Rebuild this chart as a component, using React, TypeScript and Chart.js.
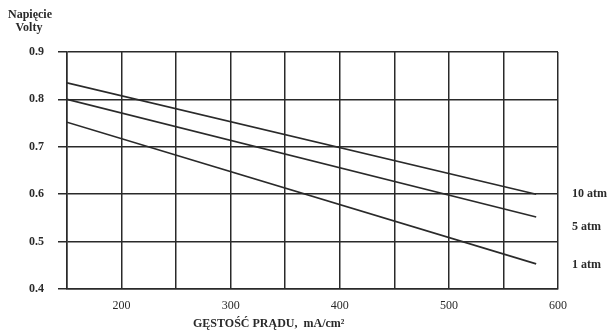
import React, { useEffect, useRef } from "react";
import { Chart, registerables } from "chart.js";

Chart.register(...registerables);

const densities = [150, 580];
const series10atm = [0.835, 0.6];
const series5atm = [0.8, 0.552];
const series1atm = [0.752, 0.453];
const seriesNames = ["10 atm", "5 atm", "1 atm"];
const labelValues = [0.6, 0.531, 0.45];
const xTitle = "GĘSTOŚĆ PRĄDU,  mA/cm²";
const yTitle = ["Napięcie", "Volty"];

const INK = "#2a2a2a";
const FONT = "'Liberation Serif', 'DejaVu Serif', serif";

export default function App() {
  const ref = useRef<HTMLCanvasElement | null>(null);
  useEffect(() => {
    document.body.style.margin = "0";
    const canvas = ref.current!;
    const textPlugin = {
      id: "texts",
      afterDraw(chart: any) {
        const ctx = chart.ctx;
        const y = chart.scales.y;
        ctx.save();
        ctx.fillStyle = INK;
        ctx.font = `bold 12px ${FONT}`;
        ctx.textAlign = "center";
        ctx.textBaseline = "middle";
        ctx.fillText(yTitle[0], 30, 15);
        ctx.fillText(yTitle[1], 29, 28);
        ctx.textAlign = "left";
        ctx.font = `bold 12px ${FONT}`;
        seriesNames.forEach((n, i) => {
          ctx.fillText(n, 572, y.getPixelForValue(labelValues[i]));
        });
        ctx.font = `bold 12px ${FONT}`;
        ctx.fillText(xTitle, 193, 324);
        ctx.restore();
      },
    };
    const mk = (data: number[]) =>
      densities.map((d, i) => ({ x: d, y: data[i] }));
    const chart = new Chart(canvas, {
      type: "line",
      data: {
        datasets: [series10atm, series5atm, series1atm].map((s, i) => ({
          label: seriesNames[i],
          data: mk(s),
          borderColor: INK,
          borderWidth: 1.6,
          pointRadius: 0,
          fill: false,
          tension: 0,
        })),
      },
      options: {
        animation: false,
        responsive: false,
        maintainAspectRatio: false,
        layout: { padding: { top: 52, right: 51, left: 0, bottom: 0 } },
        plugins: { legend: { display: false }, tooltip: { enabled: false } },
        scales: {
          x: {
            type: "linear",
            min: 150,
            max: 600,
            afterFit: (s: any) => {
              s.height = 46;
            },
            ticks: {
              stepSize: 50,
              autoSkip: false,
              maxRotation: 0,
              padding: 10,
              color: INK,
              font: { family: FONT, size: 12 },
              callback: (v: any) => (Number(v) % 100 === 0 ? String(v) : ""),
            },
            grid: { color: INK, lineWidth: 1.5, drawTicks: false },
            border: { color: INK, width: 1.5 },
          },
          y: {
            min: 0.4,
            max: 0.9,
            afterFit: (s: any) => {
              s.width = 67;
            },
            ticks: {
              stepSize: 0.1,
              padding: 14,
              color: INK,
              font: { family: FONT, size: 12, weight: "bold" },
              callback: (v: any) => Number(v).toFixed(1),
            },
            grid: { color: INK, lineWidth: 1.5, drawTicks: true, tickLength: 9 },
            border: { color: INK, width: 1.5 },
          },
        },
      },
      plugins: [textPlugin],
    });
    return () => chart.destroy();
  }, []);
  return (
    <div style={{ width: 609, height: 335 }}>
      <canvas ref={ref} width={609} height={335} style={{ display: "block" }} />
    </div>
  );
}
